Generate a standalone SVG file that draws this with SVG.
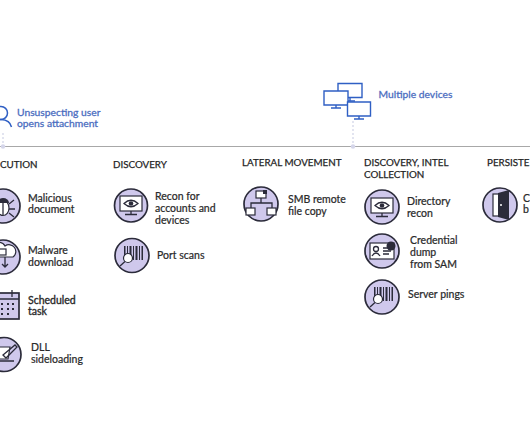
<svg xmlns="http://www.w3.org/2000/svg" width="530" height="442" viewBox="0 0 530 442">
<style>
text{font-family:Lato,"Noto Sans","Liberation Sans",sans-serif;font-size:10.5px;font-weight:400;fill:#2a2a2a;stroke:#2a2a2a;stroke-width:.22px}
.h{font-size:9.8px;fill:#1f1f1f;stroke:#1f1f1f;stroke-width:.25px}
.b{fill:#4a6cc0;stroke:#4a6cc0;stroke-width:.28px;font-size:10.3px}
.c{fill:#cfc8ec;stroke:#2b2b3a;stroke-width:1.7}
.i{fill:none;stroke:#2b2b3a;stroke-width:1.3}
.f{fill:#fff;stroke:#2b2b3a;stroke-width:1.2}
.d{fill:#2b2b3a}
.m{fill:#fff;stroke:#2f5fc4;stroke-width:1.4}
.mn{fill:none;stroke:#2f5fc4;stroke-width:1.5}
</style>
<defs>
<g id="scan"><path class="d" d="M-9-9h1.500v13H-9zM-6-9h1v10h-1zM-3.500-9h2v9h-2zM0-9h1v14H0zM2.500-9h2v14h-2zM6-9h1v14H6zM8.500-9h1.500v14H8.500z"/><circle class="f" cx="-5" cy="3" r="4.500"/><path class="i" d="M-8 6.500L-13 11"/></g>
<g id="eye"><rect class="f" x="-11" y="-9" width="22" height="15"/><path class="i" d="M-7-1.500Q0-8 7-1.500Q0 5-7-1.500Z"/><circle class="d" cx="0" cy="-1.500" r="2.300"/><path class="i" d="M0 6v3M-6 9.500H6"/></g>
</defs>
<g id="connectors">
<path d="M0 146.500H530" stroke="#a8a8a8" stroke-width="1.200" fill="none"/>
<path d="M3 133V146" stroke="#d9dcec" stroke-width="1.500" stroke-dasharray="2 2" fill="none"/>
<path d="M353 121V146" stroke="#d9dcec" stroke-width="1.500" stroke-dasharray="2 2" fill="none"/>
<circle cx="3" cy="146.500" r="2.200" fill="#d5d6ea"/>
<circle cx="353" cy="146.500" r="2.200" fill="#d5d6ea"/>
</g>
<g id="user">
<circle class="mn" cx="1" cy="113" r="6.500"/>
<path class="mn" d="M-8 127Q-6 119 1 119.500Q10 120 11.500 127"/>
<text class="b" x="17" y="115.500">Unsuspecting user</text>
<text class="b" x="17" y="127">opens attachment</text>
</g>
<g id="devices">
<path class="m" d="M338 83.500h24v14h-24zM350 97.500v3M345 101h10"/>
<path class="m" d="M324 91h24v14h-24zM336 105v3M331 108h10"/>
<path class="m" d="M347.500 102h23v14h-23zM359 116v3M354 119h10"/>
<text class="b" x="378.500" y="98">Multiple devices</text>
</g>
<g id="execution-head"><text class="h" x="0" y="167.500">CUTION</text></g>
<g id="discovery-head"><text class="h" x="113" y="167.500">DISCOVERY</text></g>
<g id="lateral-head"><text class="h" x="242" y="165.500">LATERAL MOVEMENT</text></g>
<g id="intel-head"><text class="h" x="364" y="165.500">DISCOVERY, INTEL</text><text class="h" x="364" y="177.500">COLLECTION</text></g>
<g id="persist-head"><text class="h" x="487" y="165.500">PERSISTE</text></g>

<g id="malicious"><circle class="c" cx="3" cy="206" r="17"/>
<ellipse class="f" cx="3" cy="208" rx="6" ry="7.500"/><path class="d" d="M-3 203a6 5 0 0 1 12 0z"/><path class="i" d="M3 203V215M-3 204l-5-4M9 204l5-4M-3 209h-6M9 209h6M-3 213l-5 4M9 213l5 4"/>
<text x="28" y="201.500">Malicious</text><text x="28" y="213">document</text></g>
<g id="malware"><circle class="c" cx="3" cy="257" r="17"/>
<path class="f" d="M-9 257a5 5 0 0 1 1-9a7 7 0 0 1 13-2a6 6 0 0 1 8 11z"/><rect class="f" x="-1" y="249" width="7" height="6"/><path class="i" d="M5 257v10M2 264l3 3 3-3"/>
<text x="28" y="254">Malware</text><text x="28" y="265.500">download</text></g>
<g id="scheduled">
<rect x="-12" y="293" width="31" height="26" fill="#cfc8ec" stroke="#2b2b3a" stroke-width="1.700"/><path class="i" d="M-12 299H19M12 290V297"/>
<path d="M-4 303h2v2h-2zM1 303h2v2h-2zM7 303h2v2H7zM12 303h2v2h-2zM-4 308h2v2h-2zM1 308h2v2h-2zM7 308h2v2H7zM12 308h2v2h-2zM-4 313h2v2h-2zM1 313h2v2h-2zM7 313h2v2H7z" class="d"/>
<text x="28" y="303.500" style="stroke-width:.35px">Scheduled</text><text x="28" y="315" style="stroke-width:.35px">task</text></g>
<g id="dll"><circle class="c" cx="4" cy="354.500" r="17"/>
<path class="f" d="M-8 347H10L8 359H-8z"/><path class="i" d="M-10 361H14M3 355L15 345l2 2L6 358z"/>
<text x="31" y="351">DLL</text><text x="31" y="362.500">sideloading</text></g>

<g id="recon"><circle class="c" cx="131" cy="205.500" r="16.500"/><use href="#eye" x="131" y="205"/>
<text x="155" y="200">Recon for</text><text x="155" y="212">accounts and</text><text x="155" y="223.500">devices</text></g>
<g id="port"><circle class="c" cx="132" cy="255.500" r="17"/><use href="#scan" x="133" y="255"/>
<text x="157" y="259">Port scans</text></g>
<g id="smb"><circle class="c" cx="261" cy="204" r="17"/>
<path class="i" d="M261 198V203M251 209V203H272V209"/><rect class="f" x="256" y="191" width="10" height="7"/><rect class="f" x="246" y="208" width="9" height="7"/><rect class="f" x="267" y="208" width="9" height="7"/><path class="d" d="M263 190h4v4h-4z"/>
<text x="288" y="202.500">SMB remote</text><text x="288" y="214.500">file copy</text></g>
<g id="directory"><circle class="c" cx="382" cy="207" r="17"/><use href="#eye" x="382" y="207"/>
<text x="407" y="204.500">Directory</text><text x="407" y="216.500">recon</text></g>
<g id="credential"><circle class="c" cx="382" cy="251" r="17"/>
<rect class="f" x="370" y="243" width="24" height="16"/><circle class="i" cx="376" cy="249" r="2.500"/><path class="i" d="M372 256q4-6 8 0M383 248h8M383 251h8M383 254h6"/><circle class="d" cx="391" cy="246" r="4.500"/>
<text x="410" y="244">Credential</text><text x="410" y="255.500">dump</text><text x="410" y="267.500">from SAM</text></g>
<g id="server"><circle class="c" cx="382" cy="297" r="17"/><use href="#scan" x="383" y="296"/>
<text x="408" y="298">Server pings</text></g>
<g id="door"><circle class="c" cx="500" cy="205" r="17"/>
<rect class="f" x="493" y="194" width="13" height="22"/><path class="d" d="M498 193L509 190V220L498 217z"/><circle cx="501" cy="205" r="1" fill="#fff"/>
<text x="523" y="201.500">C</text><text x="523" y="213">b</text></g>
</svg>
